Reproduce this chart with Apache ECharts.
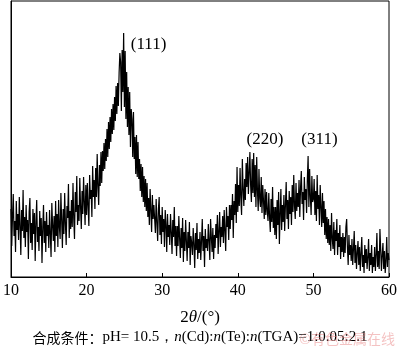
<!DOCTYPE html>
<html>
<head>
<meta charset="utf-8">
<script src="https://cdn.jsdelivr.net/npm/echarts@6/dist/echarts.min.js"></script>
<style>
  html, body { margin: 0; padding: 0; background: #fff; }
  #chart { width: 400px; height: 352px; }
</style>
</head>
<body>
<div id="chart"></div>
<script>
// 2theta scan, 10..60 deg, 0.1 deg step; intensity in arbitrary units
const startAngle = 10
const stepAngle = 0.1
const xTicks = [10, 20, 30, 40, 50, 60]

const counts10to20 = [
  68, 31, 61, 83, 41, 56, 25, 76, 47, 63,
  37, 80, 51, 22, 67, 46, 87, 39, 60, 30,
  72, 45, 57, 18, 65, 79, 34, 54, 27, 68,
  43, 64, 16, 55, 77, 35, 50, 26, 66, 41,
  59, 14, 49, 72, 34, 56, 25, 65, 41, 52,
  29, 67, 43, 20, 74, 52, 36, 61, 25, 76,
  41, 63, 30, 77, 50, 38, 84, 57, 29, 68,
  43, 84, 53, 32, 71, 59, 93, 39, 66, 48,
  77, 50, 94, 58, 38, 85, 65, 101, 52, 72,
  56, 99, 70, 48, 86, 63, 100, 75, 52, 92
]
const counts20to30 = [
  62, 94, 71, 51, 102, 78, 87, 60, 111, 80,
  97, 68, 109, 80, 123, 90, 72, 112, 91, 125,
  94, 126, 106, 134, 108, 138, 116, 148, 120, 155,
  128, 160, 135, 168, 143, 173, 147, 180, 156, 191,
  163, 194, 171, 204, 224, 215, 166, 227, 185, 244,
  170, 226, 158, 205, 150, 190, 142, 185, 130, 168,
  158, 120, 165, 118, 140, 103, 142, 100, 135, 98,
  118, 86, 113, 80, 110, 75, 101, 70, 98, 66,
  94, 60, 79, 52, 88, 67, 45, 82, 58, 72,
  70, 44, 78, 55, 36, 68, 80, 42, 62, 33
]
const counts30to40 = [
  70, 45, 58, 30, 67, 52, 25, 63, 40, 52,
  32, 63, 45, 23, 57, 40, 70, 31, 51, 21,
  51, 31, 61, 39, 19, 49, 29, 59, 15, 45,
  26, 57, 36, 16, 45, 29, 55, 12, 41, 34,
  22, 49, 33, 9, 44, 27, 54, 18, 38, 24,
  45, 17, 36, 58, 26, 41, 10, 48, 29, 38,
  26, 53, 36, 17, 58, 40, 25, 49, 18, 42,
  29, 53, 39, 62, 23, 46, 65, 30, 50, 40,
  61, 34, 67, 46, 26, 70, 50, 61, 37, 72,
  48, 72, 57, 83, 39, 76, 62, 93, 54, 110
]
const counts40to50 = [
  65, 92, 71, 109, 79, 62, 118, 88, 71, 98,
  77, 114, 90, 120, 83, 104, 125, 91, 75, 118,
  84, 124, 80, 112, 70, 120, 86, 66, 108, 78,
  70, 100, 64, 92, 76, 58, 88, 62, 85, 66,
  56, 84, 60, 45, 78, 55, 90, 49, 70, 42,
  70, 38, 77, 52, 85, 33, 63, 88, 47, 72,
  55, 82, 46, 72, 95, 58, 77, 48, 86, 63,
  80, 52, 92, 65, 102, 71, 58, 94, 66, 84,
  70, 97, 60, 89, 106, 73, 85, 57, 100, 77,
  88, 64, 98, 121, 70, 108, 80, 62, 101, 75
]
const counts50to60 = [
  78, 98, 62, 86, 56, 102, 68, 82, 52, 92,
  70, 50, 84, 54, 76, 42, 68, 38, 60, 34,
  58, 32, 52, 26, 64, 38, 28, 55, 22, 47,
  36, 58, 22, 44, 30, 52, 18, 40, 25, 44,
  20, 40, 24, 50, 58, 30, 12, 42, 22, 32,
  16, 38, 12, 28, 46, 14, 32, 8, 24, 36,
  12, 30, 6, 24, 40, 10, 22, 4, 32, 14,
  28, 8, 20, 38, 6, 24, 12, 32, 4, 20,
  10, 30, 6, 22, 44, 10, 26, 8, 48, 28,
  6, 22, 34, 8, 26, 4, 16, 40, 10, 24,
  17
]

const peakNames = ['(111)', '(220)', '(311)']
const peakLabelAt = [[28.2, 232], [43.6, 137], [50.8, 137]]

const counts = [].concat(counts10to20, counts20to30, counts30to40, counts40to50, counts50to60)
const scan = counts.map((v, i) => [+(startAngle + i * stepAngle).toFixed(1), v])

const serif = '"Liberation Serif", "DejaVu Serif", serif'
const chart = echarts.init(document.getElementById('chart'))

chart.setOption({
  animation: false,
  grid: {
    left: 7,
    right: 8,
    top: 1,
    bottom: 75,
    show: true,
    borderColor: '#000',
    borderWidth: 1
  },
  xAxis: {
    type: 'value',
    min: xTicks[0],
    max: xTicks[xTicks.length - 1],
    interval: 10,
    axisLine: { lineStyle: { color: '#000', width: 1 } },
    axisTick: { inside: true, length: 4, lineStyle: { color: '#000' } },
    axisLabel: { color: '#000', fontFamily: serif, fontSize: 16, margin: 6 },
    splitLine: { show: false },
    name: '{a|2}{i|θ}{a|/(°)}',
    nameLocation: 'middle',
    nameGap: 32,
    nameTextStyle: {
      rich: {
        a: { fontFamily: serif, fontSize: 17, color: '#000' },
        i: { fontFamily: serif, fontSize: 17, fontStyle: 'italic', color: '#000' }
      }
    }
  },
  yAxis: {
    type: 'value',
    min: 0,
    max: 276,
    axisLine: { show: true, lineStyle: { color: '#000' } },
    axisTick: { show: false },
    axisLabel: { show: false },
    splitLine: { show: false }
  },
  series: [
    {
      type: 'line',
      data: scan,
      showSymbol: false,
      symbol: 'none',
      lineStyle: { color: '#000', width: 1.2 },
      markPoint: {
        symbol: 'circle',
        symbolSize: 0,
        label: {
          show: true,
          position: 'inside',
          color: '#000',
          fontFamily: serif,
          fontSize: 17,
          formatter: p => p.name
        },
        data: peakNames.map((n, i) => ({ name: n, coord: peakLabelAt[i] }))
      }
    }
  ],
  graphic: [
    {
      type: 'text',
      left: 'center',
      top: 330,
      style: {
        text: '{c|合成条件：}{r|pH= 10.5，}{i|n}{r|(Cd):}{i|n}{r|(Te):}{i|n}{r|(TGA)=1:0.05:2.1}',
        rich: {
          c: { fontFamily: '"Noto Sans CJK SC"', fontSize: 14, fill: '#000' },
          r: { fontFamily: serif, fontSize: 15, fill: '#000' },
          i: { fontFamily: serif, fontSize: 15, fontStyle: 'italic', fill: '#000' }
        }
      }
    },
    {
      type: 'text',
      right: 5,
      top: 332,
      style: {
        text: '©有色金属在线',
        fontFamily: '"Noto Sans CJK SC"',
        fontSize: 14,
        fill: 'rgba(230, 120, 120, 0.45)'
      }
    }
  ]
})
</script>
</body>
</html>
